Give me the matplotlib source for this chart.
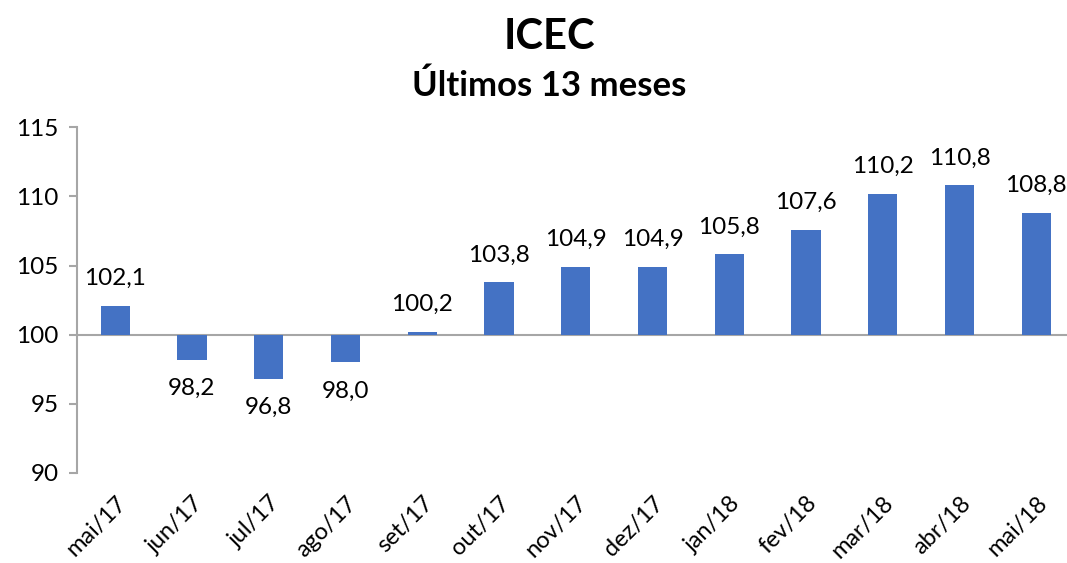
import matplotlib.pyplot as plt

meses = ["mai/17", "jun/17", "jul/17", "ago/17", "set/17", "out/17", "nov/17",
         "dez/17", "jan/18", "fev/18", "mar/18", "abr/18", "mai/18"]
icec = [102.1, 98.2, 96.8, 98.0, 100.2, 103.8, 104.9, 104.9, 105.8, 107.6, 110.2, 110.8, 108.8]
base = 100

plt.rcParams['font.family'] = ['Lato', 'DejaVu Sans']

fig = plt.figure(figsize=(10.67, 5.63), dpi=100)
ax = fig.add_axes([0.072, 0.16, 0.928, 0.614])

x = range(len(meses))
alturas = [v - base for v in icec]
ax.bar(x, alturas, bottom=base, width=0.38, color="#4472C4", zorder=2)
ax.axhline(base, color="#A6A6A6", lw=1.5, zorder=1)

for i, v in enumerate(icec):
    txt = f"{v:.1f}".replace(".", ",")
    if v >= base:
        ax.annotate(txt, (i, v), xytext=(0, 12), textcoords="offset points",
                    ha="center", va="bottom", fontsize=17.5)
    else:
        ax.annotate(txt, (i, v), xytext=(0, -13), textcoords="offset points",
                    ha="center", va="top", fontsize=17.5)

ax.set_xlim(-0.5, len(meses) - 0.6)
ax.set_ylim(90, 115)
ax.set_yticks([90, 95, 100, 105, 110, 115])
ax.set_xticks(list(x))
ax.set_xticklabels(meses, rotation=45, ha="right", rotation_mode="anchor", fontsize=17)
ax.tick_params(axis="y", labelsize=17.5, length=6, color="#A6A6A6", width=1.5, pad=7)
ax.tick_params(axis="x", length=0, pad=14)

for s in ["top", "right", "bottom"]:
    ax.spines[s].set_visible(False)
ax.spines["left"].set_color("#A6A6A6")
ax.spines["left"].set_linewidth(1.5)

fig.text(0.515, 0.935, "ICEC", ha="center", va="center", fontsize=30, fontweight="bold")
fig.text(0.515, 0.848, "Últimos 13 meses", ha="center", va="center", fontsize=25, fontweight="bold")

fig.savefig("out.png", dpi=100)
